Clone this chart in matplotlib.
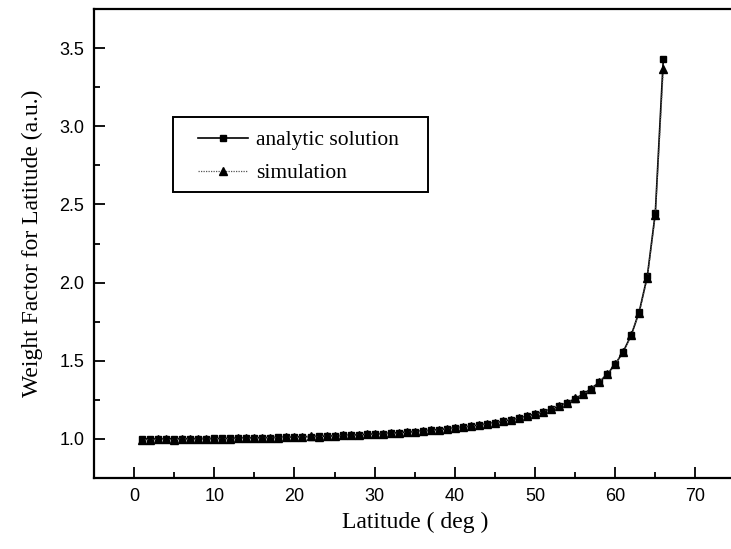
import matplotlib
matplotlib.use("Agg")
import matplotlib.pyplot as plt
from matplotlib.ticker import MultipleLocator
from matplotlib.patches import Rectangle

latitude = list(range(1, 67))
analytic = [1.000, 1.000, 1.000, 1.000, 1.001, 1.001, 1.001, 1.002, 1.002, 1.003,
            1.003, 1.004, 1.005, 1.006, 1.007, 1.008, 1.009, 1.010, 1.011, 1.012,
            1.014, 1.015, 1.017, 1.018, 1.020, 1.022, 1.024, 1.027, 1.029, 1.032,
            1.034, 1.037, 1.040, 1.044, 1.047, 1.051, 1.056, 1.060, 1.065, 1.070,
            1.076, 1.082, 1.089, 1.096, 1.104, 1.113, 1.123, 1.134, 1.146, 1.159,
            1.174, 1.191, 1.210, 1.232, 1.257, 1.287, 1.321, 1.363, 1.413, 1.478,
            1.558, 1.664, 1.815, 2.040, 2.445, 3.432]
simulation = [0.993, 0.995, 0.998, 0.998, 0.995, 1.002, 0.997, 0.999, 1.001, 0.999,
              1.002, 1.000, 1.004, 1.003, 1.006, 1.005, 1.009, 1.007, 1.012, 1.010,
              1.013, 1.016, 1.014, 1.019, 1.018, 1.023, 1.022, 1.026, 1.030, 1.029,
              1.033, 1.038, 1.036, 1.044, 1.045, 1.050, 1.054, 1.057, 1.066, 1.068,
              1.074, 1.083, 1.087, 1.094, 1.102, 1.115, 1.124, 1.131, 1.145, 1.157,
              1.175, 1.193, 1.212, 1.230, 1.259, 1.285, 1.318, 1.366, 1.415, 1.480,
              1.553, 1.667, 1.808, 2.032, 2.430, 3.365]
x_ticks = [0, 10, 20, 30, 40, 50, 60, 70]
y_ticks = [1.0, 1.5, 2.0, 2.5, 3.0, 3.5]

fig = plt.figure(figsize=(7.31, 5.49), dpi=100)
ax = fig.add_axes([94 / 731, 71 / 549, (735.5 - 94) / 731, (478 - 9) / 549])

ax.plot(latitude, analytic, color="black", lw=1.2, ls="-", marker="s",
        markersize=5, label="analytic solution", zorder=3)
ax.plot(latitude, simulation, color="#555555", lw=0.9, ls=(0, (1, 1)), marker="^",
        markersize=6, markerfacecolor="black", markeredgecolor="black",
        label="simulation", zorder=4)

ax.set_xlim(-5, 75)
ax.set_ylim(0.75, 3.75)
ax.set_xticks(x_ticks)
ax.set_yticks(y_ticks)
ax.set_xticklabels([str(v) for v in x_ticks])
ax.set_yticklabels([f"{v:.1f}" for v in y_ticks])
ax.xaxis.set_minor_locator(MultipleLocator(5))
ax.yaxis.set_minor_locator(MultipleLocator(0.25))
ax.tick_params(which="both", direction="in", top=False, right=False, width=1.3)
ax.tick_params(which="major", length=8, labelsize=13, pad=7)
ax.tick_params(which="minor", length=4)
for lbl in ax.get_xticklabels() + ax.get_yticklabels():
    lbl.set_fontfamily("Liberation Sans")
for side in ["left", "bottom", "top", "right"]:
    ax.spines[side].set_linewidth(1.6)

ax.set_xlabel("Latitude ( deg )", fontfamily="Liberation Serif", fontsize=17, labelpad=5)
ax.set_ylabel("Weight Factor for Latitude (a.u.)", fontfamily="Liberation Serif",
              fontsize=17, labelpad=12)

# legend frame drawn as a rectangle, entries placed inside it
ax.add_patch(Rectangle((0.1227, 0.6104), 0.398, 0.1586, transform=ax.transAxes,
                       facecolor="white", edgecolor="black", lw=1.4, zorder=5))
leg = ax.legend(loc="upper left", bbox_to_anchor=(0.1621, 0.742),
                prop={"family": "Liberation Serif", "size": 15.5}, frameon=False,
                handlelength=2.3, handletextpad=0.4, borderpad=0,
                labelspacing=0.62, borderaxespad=0)
leg.set_zorder(6)

fig.savefig("out.png", dpi=100)
